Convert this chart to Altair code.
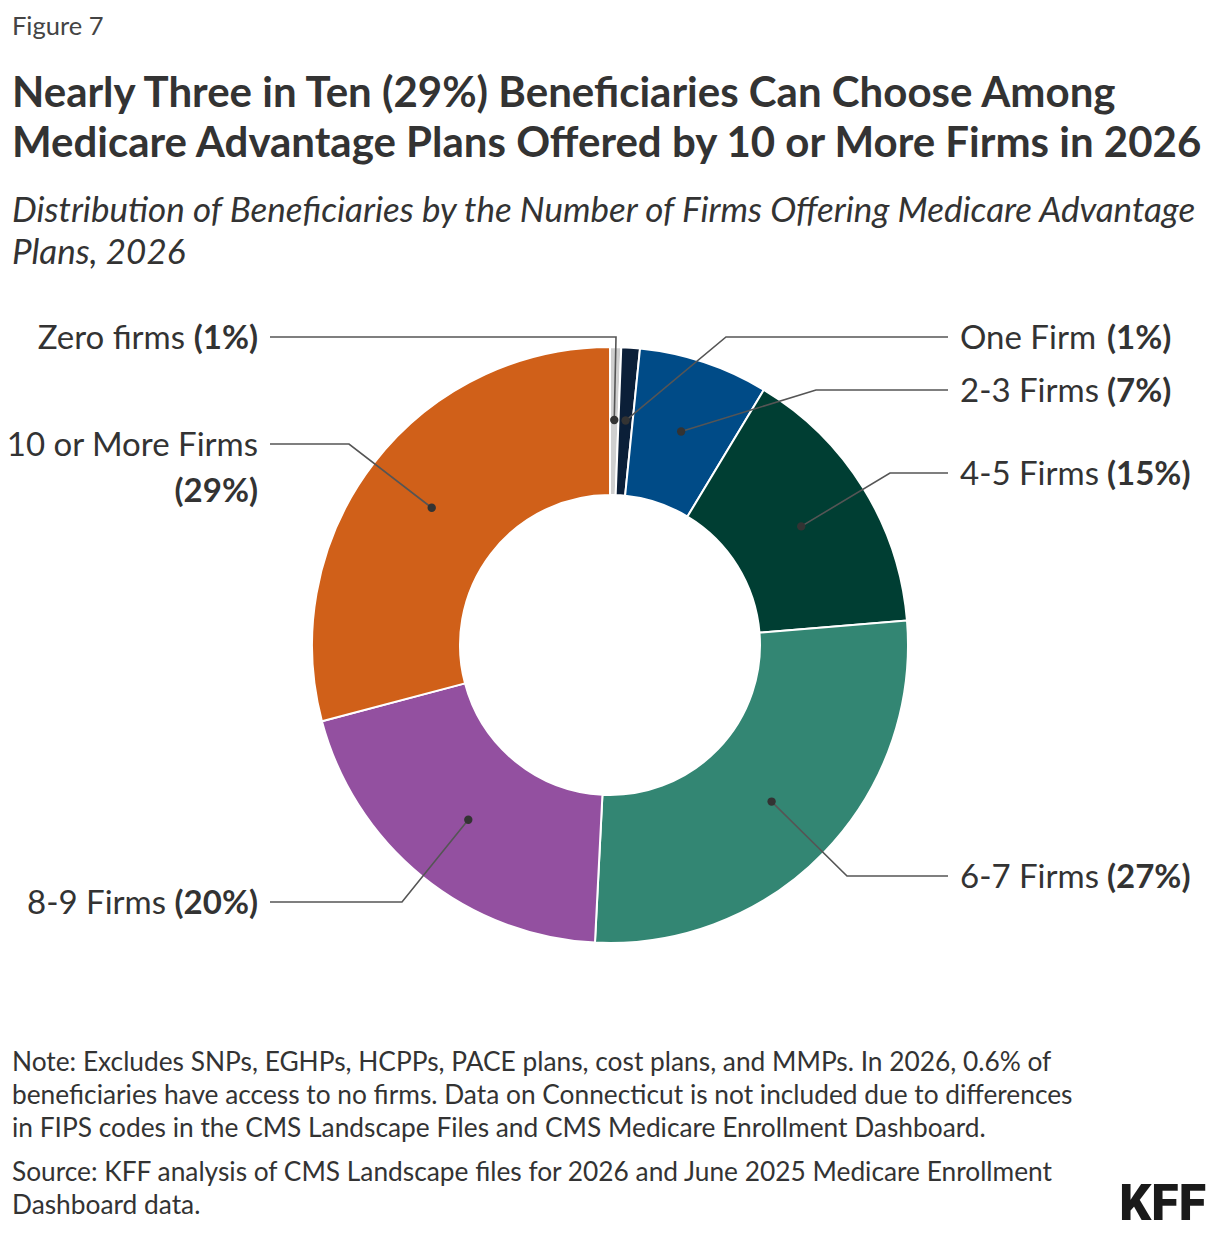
import math
import altair as alt
import pandas as pd

# ---------------- data ----------------
categories = ["Zero firms", "One Firm", "2-3 Firms", "4-5 Firms",
              "6-7 Firms", "8-9 Firms", "10 or More Firms"]
shares = [0.6, 1, 7, 15, 27, 20, 29]
pct_labels = ["(1%)", "(1%)", "(7%)", "(15%)", "(27%)", "(20%)", "(29%)"]
colors = ["#CFCFCF", "#0B1F38", "#004B87", "#003E33", "#338673", "#9350A0", "#D06019"]

title_lines = ["Nearly Three in Ten (29%) Beneficiaries Can Choose Among",
               "Medicare Advantage Plans Offered by 10 or More Firms in 2026"]
subtitle_lines = ["Distribution of Beneficiaries by the Number of Firms Offering Medicare Advantage",
                  "Plans, 2026"]
note_lines = ["Note: Excludes SNPs, EGHPs, HCPPs, PACE plans, cost plans, and MMPs. In 2026, 0.6% of",
              "beneficiaries have access to no firms. Data on Connecticut is not included due to differences",
              "in FIPS codes in the CMS Landscape Files and CMS Medicare Enrollment Dashboard."]
source_lines = ["Source: KFF analysis of CMS Landscape files for 2026 and June 2025 Medicare Enrollment",
                "Dashboard data."]

# ---------------- layout (page pixel coordinates) ----------------
W, H = 1204, 1224
X0, Y0 = 8, 8
CX, CY = 610, 645
R_OUT, R_IN, R_DOT = 298, 150, 225
FONT = "Lato"

elbow_x = [616, 726, 816, 890, 847, 402, 349]
elbow_y = [337, 337, 390, 473, 876, 902, 444]
end_x = [270, 948, 948, 948, 948, 270, 270]
name_x = [185, 960, 960, 960, 960, 166, 258]
name_y = [337, 337, 390, 473, 876, 902, 444]
pct_x = [258, 1107, 1107, 1107, 1107, 258, 258]
pct_y = [337, 337, 390, 473, 876, 902, 490]
side = ["left", "right", "right", "right", "right", "left", "left"]

xscale = alt.Scale(domain=[X0, X0 + W], nice=False, zero=False)
yscale = alt.Scale(domain=[Y0, Y0 + H], nice=False, zero=False, reverse=True)

# ---------------- frames ----------------
arc_df = pd.DataFrame({"category": categories, "share": shares, "idx": range(len(categories))})

total = sum(shares)
cum = 0.0
dot_rows, line_rows = [], []
for i, (c, s) in enumerate(zip(categories, shares)):
    mid = (cum + s / 2) / total * 2 * math.pi
    cum += s
    dx = CX + R_DOT * math.sin(mid)
    dy = CY - R_DOT * math.cos(mid)
    dot_rows.append({"category": c, "x": dx, "y": dy})
    line_rows += [
        {"category": c, "o": 0, "x": dx, "y": dy},
        {"category": c, "o": 1, "x": elbow_x[i], "y": elbow_y[i]},
        {"category": c, "o": 2, "x": end_x[i], "y": elbow_y[i]},
    ]
dot_df = pd.DataFrame(dot_rows)
line_df = pd.DataFrame(line_rows)

BASE_OFF = 12  # baseline offset below leader line
name_left = pd.DataFrame([{"t": categories[i], "x": name_x[i], "y": name_y[i] + BASE_OFF}
                          for i in range(7) if side[i] == "left"])
name_right = pd.DataFrame([{"t": categories[i], "x": name_x[i], "y": name_y[i] + BASE_OFF}
                           for i in range(7) if side[i] == "right"])
pct_left = pd.DataFrame([{"t": pct_labels[i], "x": pct_x[i], "y": pct_y[i] + BASE_OFF}
                         for i in range(7) if side[i] == "left"])
pct_right = pd.DataFrame([{"t": pct_labels[i], "x": pct_x[i], "y": pct_y[i] + BASE_OFF}
                          for i in range(7) if side[i] == "right"])


def text_layer(df, size, align="left", weight="normal", style="normal", color="#333333",
               font=FONT, baseline="alphabetic"):
    return alt.Chart(df).mark_text(
        align=align, baseline=baseline, fontSize=size, fontWeight=weight,
        fontStyle=style, font=font, color=color
    ).encode(
        x=alt.X("x:Q", scale=xscale, axis=None),
        y=alt.Y("y:Q", scale=yscale, axis=None),
        text="t:N",
    )


fig_df = pd.DataFrame([{"t": "Figure 7", "x": 12, "y": 35}])
title_df = pd.DataFrame([{"t": t, "x": 12, "y": y} for t, y in zip(title_lines, [107, 157])])
sub_df = pd.DataFrame([{"t": t, "x": 12, "y": y} for t, y in zip(subtitle_lines, [222, 264])])
note_df = pd.DataFrame([{"t": t, "x": 12, "y": y} for t, y in zip(note_lines, [1071, 1104, 1137])])
src_df = pd.DataFrame([{"t": t, "x": 12, "y": y} for t, y in zip(source_lines, [1181, 1214])])
logo_df = pd.DataFrame([{"t": "KFF", "x": 1206, "y": 1230}])

arcs = alt.Chart(arc_df).mark_arc(
    outerRadius=R_OUT, innerRadius=R_IN, stroke="white", strokeWidth=2
).encode(
    theta=alt.Theta("share:Q", stack=True),
    color=alt.Color("category:N", scale=alt.Scale(domain=categories, range=colors), legend=None),
    order=alt.Order("idx:Q"),
    x=alt.XDatum(CX, scale=xscale, axis=None),
    y=alt.YDatum(CY, scale=yscale, axis=None),
)

lines = alt.Chart(line_df).mark_line(color="#555555", strokeWidth=1.6).encode(
    x=alt.X("x:Q", scale=xscale, axis=None),
    y=alt.Y("y:Q", scale=yscale, axis=None),
    detail="category:N",
    order="o:Q",
)

dots = alt.Chart(dot_df).mark_circle(size=70, color="#333333", opacity=1).encode(
    x=alt.X("x:Q", scale=xscale, axis=None),
    y=alt.Y("y:Q", scale=yscale, axis=None),
)

LBL = 33
chart = alt.layer(
    arcs, lines, dots,
    text_layer(name_left, LBL, align="right"),
    text_layer(name_right, LBL, align="left"),
    text_layer(pct_left, LBL, align="right", weight="bold"),
    text_layer(pct_right, LBL, align="left", weight="bold"),
    text_layer(fig_df, 25.5, color="#444444"),
    text_layer(title_df, 42, weight="bold"),
    text_layer(sub_df, 35, style="italic"),
    text_layer(note_df, 26.3),
    text_layer(src_df, 26.3),
    text_layer(logo_df, 50, align="right", weight=900, color="#1a1a1a", font="Roboto",
               baseline="bottom"),
).properties(
    width=W, height=H, padding=0,
    autosize=alt.AutoSizeParams(type="none"),
    background="white",
).configure_view(stroke=None)

chart.save("out.html", embed_options={"renderer": "svg", "actions": False})
